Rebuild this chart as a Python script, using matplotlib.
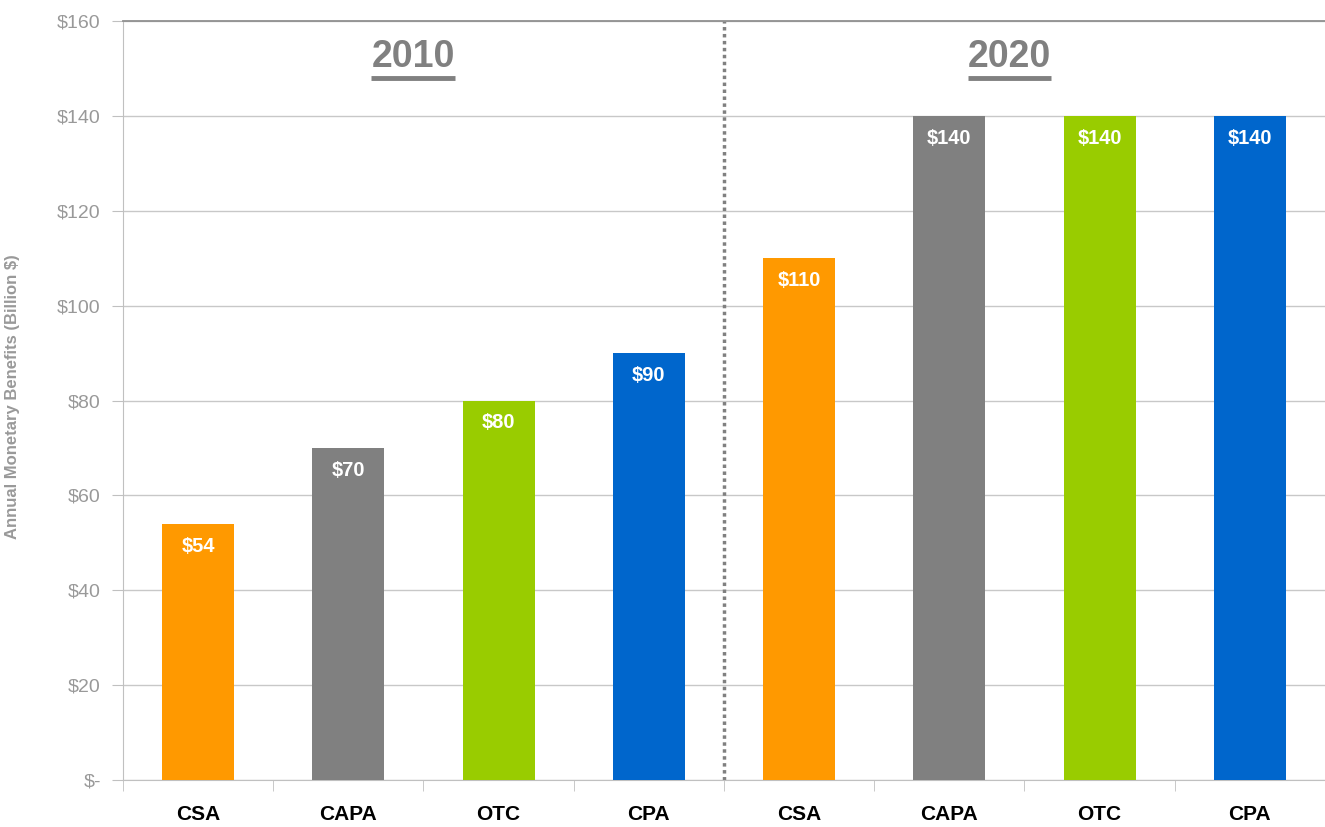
import matplotlib.pyplot as plt
from matplotlib.ticker import FixedLocator

plt.rcParams['font.family'] = ['Liberation Sans', 'DejaVu Sans']

# data
categories = ['CSA', 'CAPA', 'OTC', 'CPA', 'CSA', 'CAPA', 'OTC', 'CPA']
values = [54, 70, 80, 90, 110, 140, 140, 140]
colors = ['#FF9900', '#808080', '#99CC00', '#0066CC'] * 2
years = ['2010', '2020']
year_x = [1.43, 5.4]
yticks = [0, 20, 40, 60, 80, 100, 120, 140, 160]
ytick_labels = ['$-', '$20', '$40', '$60', '$80', '$100', '$120', '$140', '$160']

fig = plt.figure(figsize=(13.25, 8.27), dpi=100)
ax = fig.add_axes([0.0928, 0.0568, 0.9072, 0.9178])

x = list(range(len(categories)))
bars = ax.bar(x, values, width=0.48, color=colors, zorder=3)

# value labels inside bars
for xi, v in zip(x, values):
    ax.annotate('$' + str(v), (xi, v), xytext=(0, -16), textcoords='offset points',
                ha='center', va='center', color='white', fontsize=14.5, fontweight='bold', zorder=4)

ax.set_xlim(-0.5, 7.5)
ax.set_ylim(0, 160)
ax.set_yticks(yticks)
ax.set_yticklabels(ytick_labels, color='#999999', fontsize=14)
ax.yaxis.grid(True, color='#c8c8c8', linewidth=1, zorder=0)

ax.set_xticks(x)
ax.set_xticklabels(categories, fontsize=15, fontweight='bold', color='black')
ax.tick_params(axis='x', which='major', length=0, pad=18)
ax.xaxis.set_minor_locator(FixedLocator([i - 0.5 for i in range(len(categories) + 1)]))
ax.tick_params(axis='x', which='minor', length=8, color='#c0c0c0', direction='out')
ax.tick_params(axis='y', length=8, color='#c0c0c0', direction='out', pad=8)

for s in ['left', 'bottom']:
    ax.spines[s].set_color('#c0c0c0')
ax.spines['top'].set_color('#909090')
ax.spines['top'].set_linewidth(1.3)
ax.spines['right'].set_visible(False)

# divider between the two years
ax.axvline(3.5, color='#808080', linestyle=(0, (1, 1)), linewidth=2.5, zorder=2)

ax.set_ylabel('Annual Monetary Benefits (Billion $)', fontsize=12, fontweight='bold',
              color='#999999')
ax.yaxis.set_label_coords(-0.0857, 0.505)

# year headers with underline
fig.canvas.draw()
renderer = fig.canvas.get_renderer()
for yr, xx in zip(years, year_x):
    t = ax.text(xx, 152.5, yr, ha='center', va='center', fontsize=27, fontweight='bold',
                color='#808080')
    bb = t.get_window_extent(renderer).transformed(ax.transData.inverted())
    ax.plot([bb.x0, bb.x1], [148.0, 148.0], color='#808080', linewidth=3.5, solid_capstyle='butt')

fig.savefig('out.png', dpi=100)
